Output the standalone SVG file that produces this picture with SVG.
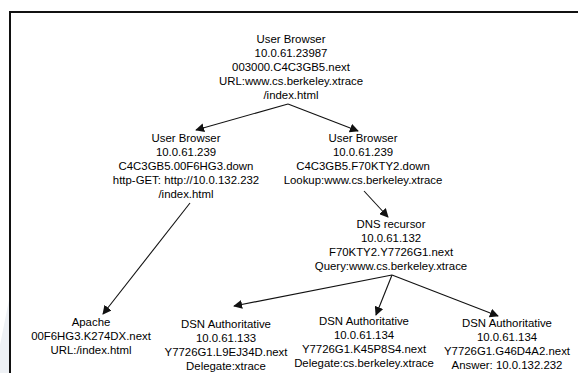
<svg xmlns="http://www.w3.org/2000/svg" width="578" height="373" viewBox="0 0 578 373">
<style>
text{font-family:"Liberation Sans",Arial,sans-serif;font-size:11.4px;fill:#000;text-anchor:middle}
.c{stroke:#111;stroke-width:1.1;fill:none}
</style>
<defs>
<marker id="ah" viewBox="0 0 10 10" refX="9" refY="5" markerWidth="9" markerHeight="9" markerUnits="userSpaceOnUse" orient="auto">
<path d="M0,0 L10,5 L0,10 z" fill="#111"/>
</marker>
</defs>
<rect width="578" height="373" fill="#fff"/>
<polygon points="0,345 9,300 9,373 0,373" fill="#eef1f5"/>
<path d="M10,380 V12 H590" fill="none" stroke="#111" stroke-width="2"/>
<g id="top">
<text x="291" y="42.5">User Browser</text>
<text x="291" y="56.5">10.0.61.23987</text>
<text x="291" y="70.5">003000.C4C3GB5.next</text>
<text x="291" y="84.5">URL:www.cs.berkeley.xtrace</text>
<text x="291" y="98.5">/index.html</text>
</g>
<g id="ub-left">
<text x="186" y="141.5">User Browser</text>
<text x="186" y="155.5">10.0.61.239</text>
<text x="186" y="169.5">C4C3GB5.00F6HG3.down</text>
<text x="186" y="183.5">http-GET: http://10.0.132.232</text>
<text x="186" y="197.5">/index.html</text>
</g>
<g id="ub-right">
<text x="363" y="141.5">User Browser</text>
<text x="363" y="155.5">10.0.61.239</text>
<text x="363" y="169.5">C4C3GB5.F70KTY2.down</text>
<text x="363" y="183.5">Lookup:www.cs.berkeley.xtrace</text>
</g>
<g id="dns">
<text x="391" y="228">DNS recursor</text>
<text x="391" y="242">10.0.61.132</text>
<text x="391" y="256">F70KTY2.Y7726G1.next</text>
<text x="391" y="270">Query:www.cs.berkeley.xtrace</text>
</g>
<g id="apache">
<text x="91" y="326">Apache</text>
<text x="91" y="340">00F6HG3.K274DX.next</text>
<text x="91" y="354">URL:/index.html</text>
</g>
<g id="dsn1">
<text x="226" y="327.5">DSN Authoritative</text>
<text x="226" y="341.5">10.0.61.133</text>
<text x="226" y="355.5">Y7726G1.L9EJ34D.next</text>
<text x="226" y="369.5">Delegate:xtrace</text>
</g>
<g id="dsn2">
<text x="364" y="325">DSN Authoritative</text>
<text x="364" y="339">10.0.61.134</text>
<text x="364" y="353">Y7726G1.K45P8S4.next</text>
<text x="364" y="367">Delegate:cs.berkeley.xtrace</text>
</g>
<g id="dsn3">
<text x="507" y="327">DSN Authoritative</text>
<text x="507" y="341">10.0.61.134</text>
<text x="507" y="355">Y7726G1.G46D4A2.next</text>
<text x="507" y="369">Answer: 10.0.132.232</text>
</g>
<g id="connectors" class="c">
<line class="c" x1="288" y1="104" x2="196" y2="130" marker-end="url(#ah)"/>
<line class="c" x1="288" y1="104" x2="358" y2="131" marker-end="url(#ah)"/>
<line class="c" x1="364" y1="191" x2="388" y2="217" marker-end="url(#ah)"/>
<line class="c" x1="190" y1="203" x2="103" y2="314" marker-end="url(#ah)"/>
<line class="c" x1="392" y1="275" x2="234" y2="306" marker-end="url(#ah)"/>
<line class="c" x1="392" y1="275" x2="376" y2="315" marker-end="url(#ah)"/>
<line class="c" x1="392" y1="275" x2="498" y2="316" marker-end="url(#ah)"/>
</g>
</svg>
